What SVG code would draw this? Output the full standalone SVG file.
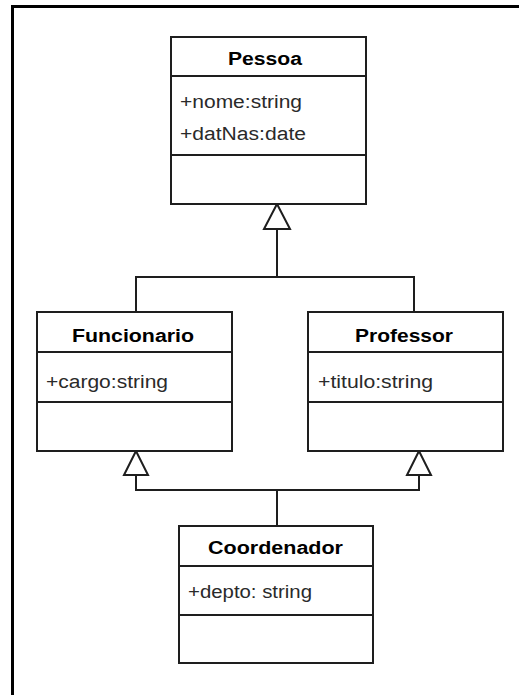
<svg xmlns="http://www.w3.org/2000/svg" width="519" height="695" viewBox="0 0 519 695">
  <defs>
    <style>
      .box { fill: #ffffff; stroke: #1e1e1e; stroke-width: 2; }
      .sep { stroke: #1e1e1e; stroke-width: 2; }
      .title { font-family: "Liberation Sans", Arial, sans-serif; font-weight: bold; font-size: 18px; fill: #000000; }
      .attr { font-family: "Liberation Sans", Arial, sans-serif; font-size: 18px; fill: #2a2a2a; }
      .wire { fill: none; stroke: #1e1e1e; stroke-width: 2; }
      .head { fill: #ffffff; stroke: #1e1e1e; stroke-width: 2; stroke-linejoin: miter; }
    </style>
  </defs>
  <rect x="0" y="0" width="519" height="695" fill="#ffffff"/>
  <!-- outer frame -->
  <path d="M12.5,695 V6.5 H519" fill="none" stroke="#000000" stroke-width="3"/>

  <!-- generalization connectors -->
  <g id="connectors">
    <path class="wire" d="M277,229 V277 M136,312 V277 H414 V312"/>
    <polygon class="head" points="277,204 264,229 290,229"/>
    <path class="wire" d="M136,475 V490 H419 V475 M277,490 V526"/>
    <polygon class="head" points="136,451 124,475 148,475"/>
    <polygon class="head" points="419,451 407,475 431,475"/>
  </g>

  <g id="pessoa">
    <rect class="box" x="171" y="37" width="195" height="167"/>
    <line class="sep" x1="171" y1="76" x2="366" y2="76"/>
    <line class="sep" x1="171" y1="155" x2="366" y2="155"/>
    <text class="title" x="228" y="65" textLength="74" lengthAdjust="spacingAndGlyphs">Pessoa</text>
    <text class="attr" x="180" y="108" textLength="122" lengthAdjust="spacingAndGlyphs">+nome:string</text>
    <text class="attr" x="180" y="140" textLength="126" lengthAdjust="spacingAndGlyphs">+datNas:date</text>
  </g>

  <g id="funcionario">
    <rect class="box" x="37" y="312" width="195" height="139"/>
    <line class="sep" x1="37" y1="352" x2="232" y2="352"/>
    <line class="sep" x1="37" y1="402" x2="232" y2="402"/>
    <text class="title" x="72" y="342" textLength="122" lengthAdjust="spacingAndGlyphs">Funcionario</text>
    <text class="attr" x="46" y="388" textLength="122" lengthAdjust="spacingAndGlyphs">+cargo:string</text>
  </g>

  <g id="professor">
    <rect class="box" x="308" y="312" width="195" height="139"/>
    <line class="sep" x1="308" y1="352" x2="503" y2="352"/>
    <line class="sep" x1="308" y1="402" x2="503" y2="402"/>
    <text class="title" x="355" y="342" textLength="98" lengthAdjust="spacingAndGlyphs">Professor</text>
    <text class="attr" x="318" y="388" textLength="115" lengthAdjust="spacingAndGlyphs">+titulo:string</text>
  </g>

  <g id="coordenador">
    <rect class="box" x="179" y="526" width="194" height="137"/>
    <line class="sep" x1="179" y1="566" x2="373" y2="566"/>
    <line class="sep" x1="179" y1="615" x2="373" y2="615"/>
    <text class="title" x="208" y="554" textLength="135" lengthAdjust="spacingAndGlyphs">Coordenador</text>
    <text class="attr" x="188" y="598" textLength="124" lengthAdjust="spacingAndGlyphs">+depto: string</text>
  </g>
</svg>
